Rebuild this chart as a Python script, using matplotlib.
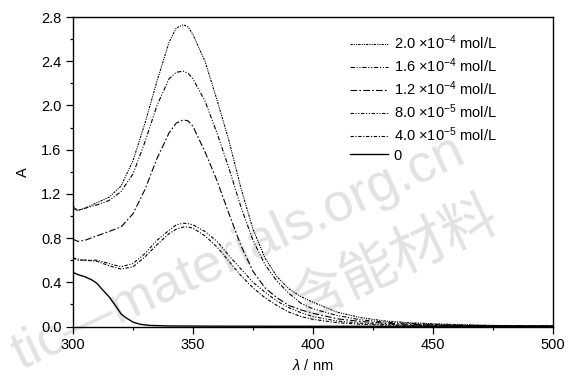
import matplotlib
matplotlib.use('Agg')
import matplotlib.pyplot as plt
from matplotlib.ticker import MultipleLocator, FormatStrFormatter

plt.rcParams['font.family'] = ['Liberation Sans', 'DejaVu Sans']
plt.rcParams['mathtext.fontset'] = 'custom'
plt.rcParams['mathtext.rm'] = 'Liberation Sans'
plt.rcParams['mathtext.it'] = 'Liberation Sans:italic'

# wavelength grid (nm)
wl = [300, 302, 305, 310, 315, 320, 325, 330, 335, 340, 343, 346, 348, 350,
      355, 360, 365, 370, 375, 380, 385, 390, 395, 400, 410, 420, 430, 440,
      450, 460, 470, 480, 490, 500]

# absorbance
a_20e4 = [1.09, 1.05, 1.07, 1.12, 1.17, 1.27, 1.50, 1.84, 2.22, 2.57, 2.70, 2.73,
          2.71, 2.64, 2.40, 2.05, 1.68, 1.25, 0.88, 0.62, 0.45, 0.34, 0.27, 0.22,
          0.13, 0.08, 0.05, 0.035, 0.025, 0.018, 0.012, 0.008, 0.006, 0.005]
a_16e4 = [1.07, 1.05, 1.07, 1.10, 1.14, 1.22, 1.38, 1.67, 2.00, 2.24, 2.30, 2.31,
          2.29, 2.24, 2.04, 1.75, 1.43, 1.08, 0.78, 0.56, 0.41, 0.30, 0.21, 0.16,
          0.10, 0.06, 0.04, 0.028, 0.02, 0.014, 0.01, 0.007, 0.005, 0.004]
a_12e4 = [0.79, 0.77, 0.78, 0.82, 0.86, 0.90, 1.02, 1.24, 1.52, 1.75, 1.84, 1.87,
          1.86, 1.81, 1.58, 1.32, 1.02, 0.73, 0.50, 0.35, 0.26, 0.19, 0.15, 0.12,
          0.07, 0.045, 0.03, 0.02, 0.015, 0.01, 0.008, 0.006, 0.005, 0.004]
a_80e5 = [0.62, 0.61, 0.60, 0.60, 0.57, 0.54, 0.57, 0.66, 0.78, 0.87, 0.92, 0.935,
          0.93, 0.92, 0.86, 0.77, 0.64, 0.52, 0.40, 0.31, 0.23, 0.17, 0.125, 0.09,
          0.05, 0.03, 0.02, 0.013, 0.01, 0.008, 0.006, 0.005, 0.004, 0.003]
a_40e5 = [0.62, 0.60, 0.60, 0.59, 0.55, 0.52, 0.54, 0.63, 0.74, 0.84, 0.88, 0.90,
          0.90, 0.89, 0.82, 0.72, 0.59, 0.46, 0.35, 0.26, 0.19, 0.13, 0.09, 0.065,
          0.035, 0.02, 0.013, 0.01, 0.008, 0.006, 0.005, 0.004, 0.003, 0.003]

wl0 = [300, 302, 305, 308, 310, 312, 315, 318, 320, 322, 325, 328, 332, 340,
       360, 400, 450, 500]
a_0 = [0.49, 0.47, 0.45, 0.42, 0.39, 0.34, 0.27, 0.18, 0.115, 0.08, 0.04, 0.02,
       0.01, 0.005, 0.003, 0.002, 0.002, 0.002]

labels = [r'2.0 $\times$10$^{-4}$ mol/L', r'1.6 $\times$10$^{-4}$ mol/L',
          r'1.2 $\times$10$^{-4}$ mol/L', r'8.0 $\times$10$^{-5}$ mol/L',
          r'4.0 $\times$10$^{-5}$ mol/L', '0']

fig = plt.figure(figsize=(5.72, 3.78), dpi=100)
ax = fig.add_axes([0.1276, 0.1362, 0.8392, 0.8188])

styles = [(0, (2, 1, 1, 1, 1, 1)),
          (0, (4, 1.5, 1, 1.5, 1, 1.5)),
          (0, (6, 2, 1.5, 2)),
          (0, (3, 1.5, 1, 1.5, 1, 1.5)),
          (0, (3, 1.5, 1, 1.5))]
series = [a_20e4, a_16e4, a_12e4, a_80e5, a_40e5]
for y, ls, lab in zip(series, styles, labels[:5]):
    ax.plot(wl, y, color='black', lw=0.8, linestyle=ls, label=lab)
ax.plot(wl0, a_0, color='black', lw=1.0, label=labels[5])

ax.set_xlim(300, 500)
ax.set_ylim(0, 2.8)
ax.xaxis.set_major_locator(MultipleLocator(50))
ax.xaxis.set_minor_locator(MultipleLocator(25))
ax.yaxis.set_major_locator(MultipleLocator(0.4))
ax.yaxis.set_minor_locator(MultipleLocator(0.2))
ax.yaxis.set_major_formatter(FormatStrFormatter('%.1f'))
ax.tick_params(which='major', direction='out', length=4.8, width=0.9,
               labelsize=10.5, top=False, right=False)
ax.tick_params(which='minor', direction='out', length=2.4, width=0.9,
               top=False, right=False)
for s in ax.spines.values():
    s.set_linewidth(1.0)

ax.set_xlabel(r'$\lambda$ / nm', fontsize=10.5, labelpad=4)
ax.set_ylabel('A', fontsize=10.5, labelpad=8)

ax.legend(loc='upper left', bbox_to_anchor=(0.565, 0.965), frameon=False,
          fontsize=10.5, handlelength=2.6, handletextpad=0.4,
          labelspacing=0.3, borderaxespad=0)

# journal watermark
fig.text(0.035, 0.02, 'tic—materials.org.cn', fontsize=39, color='#e2e2e2',
         rotation=25, ha='left', va='baseline', rotation_mode='anchor', zorder=-1)
fig.text(0.69, 0.312, '含能材料', fontsize=40, color='#e2e2e2', rotation=25,
         ha='center', va='center', family=['Noto Sans CJK SC'], zorder=-1)
ax.patch.set_alpha(0)

fig.savefig('out.png', dpi=100)
